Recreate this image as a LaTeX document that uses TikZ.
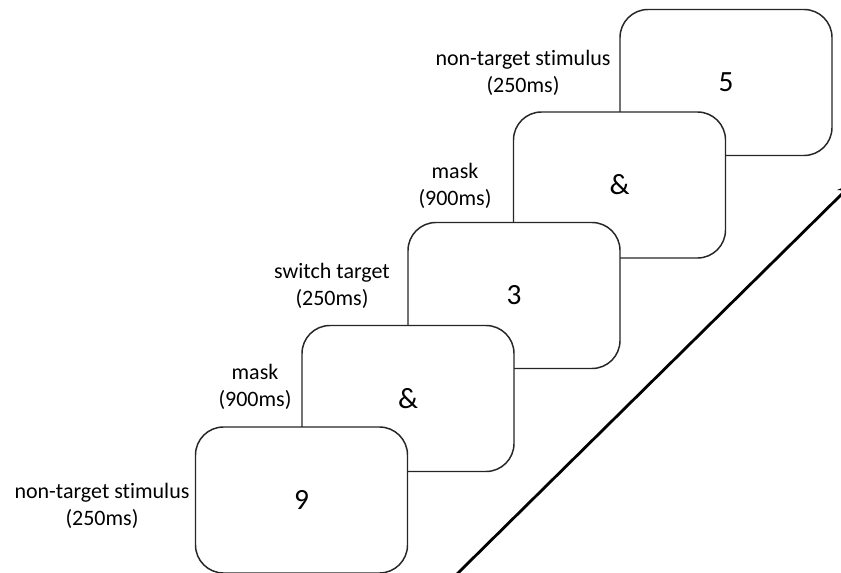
\documentclass[tikz,border=0pt]{standalone}
\usepackage{fontspec}
\setmainfont{Carlito}[Ligatures=NoCommon]
\usetikzlibrary{arrows.meta}
\tikzset{
  frame/.style={draw=black!85, line width=1.1pt, fill=white, rounded corners=21pt,
    minimum width=159pt, minimum height=109.5pt, inner sep=0pt,
    font=\fontsize{22}{24}\selectfont},
  lbl/.style={align=center, inner sep=0pt, font=\fontsize{16.5}{20}\selectfont},
  timeline/.style={line width=2.1pt, -{Stealth[length=12pt,width=9pt]}}
}
\begin{document}
\begin{tikzpicture}[x=0.75pt,y=-0.75pt]
\useasboundingbox (0,0) rectangle (841,573);
\clip (0,0) rectangle (841,573);
% boxes, back to front
\node[frame] (b1) at (726,82.5) {\raisebox{-5pt}{5}};
\node[frame] (b2) at (619.5,185) {\raisebox{-1pt}{\&}};
\node[frame] (b3) at (514,295.5) {\raisebox{-1pt}{3}};
\node[frame] (b4) at (408,398.5) {\raisebox{-2pt}{\&}};
\node[frame] (b5) at (301.5,500) {\raisebox{-1pt}{9}};
% labels
\node[lbl] (l1) at (523,73) {non-target stimulus\\(250ms)};
\node[lbl] (l2) at (455,186) {mask\\(900ms)};
\node[lbl] (l3) at (332,286) {switch target\\(250ms)};
\node[lbl] (l4) at (255,387) {mask\\(900ms)};
\node[lbl] (l5) at (102,506) {non-target stimulus\\(250ms)};
% time arrow
\coordinate (t0) at (457,574);
\coordinate (t1) at (853,183);
\draw[timeline] (t0) -- (t1);
\end{tikzpicture}
\end{document}
